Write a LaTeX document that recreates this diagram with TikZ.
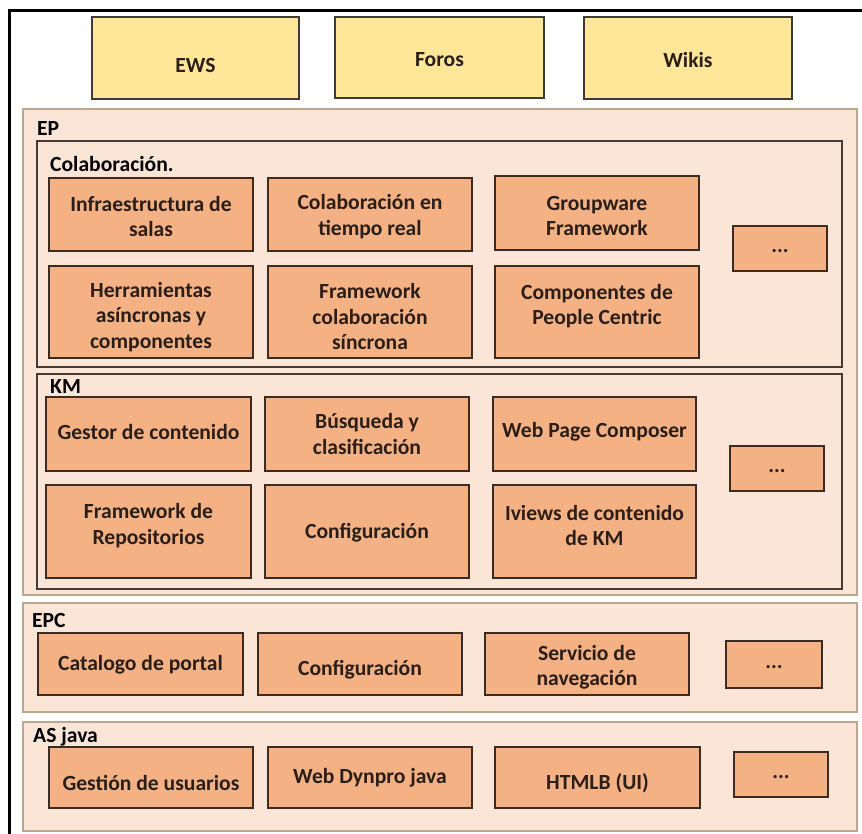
\documentclass[tikz,border=0pt]{standalone}
\usepackage{fontspec}
\setmainfont{Carlito}
\usepackage{tikz}
\definecolor[named]{AppYellow}{HTML}{FFE699}
\definecolor[named]{AppLine}{HTML}{3F3A33}
\definecolor[named]{LayerTint}{HTML}{FBE5D6}
\definecolor[named]{LayerLine}{HTML}{BFA68E}
\definecolor[named]{GroupLine}{HTML}{463A33}
\definecolor[named]{CompOrange}{HTML}{F4B183}
\definecolor[named]{CompLine}{HTML}{3D2B22}
\definecolor[named]{TextDark}{HTML}{2A1E18}
\tikzset{
  layer/.style={draw=LayerLine,fill=LayerTint,line width=1.2pt},
  group/.style={draw=GroupLine,fill=LayerTint,line width=1.5pt},
  app/.style={draw=AppLine,fill=AppYellow,line width=1.5pt},
  comp/.style={draw=CompLine,fill=CompOrange,line width=1.6pt},
  boxtext/.style={text=TextDark,font=\bfseries,align=center,inner sep=0pt},
  tag/.style={text=black,font=\bfseries,anchor=west,inner sep=0pt},
}
% [text shift]{style}{name}{x1}{y1}{x2}{y2}{text}
\newcommand{\drawblock}[8][0]{%
  \draw[#2] (#4,#5) rectangle (#6,#7);
  \node[boxtext] (#3) at ({(#4+#6)/2},{(#5+#7)/2+#1}) {#8};
}

\begin{document}
\begin{tikzpicture}[x=1pt,y=-1pt]
  \path[use as bounding box] (0,0) rectangle (862,834);
  \fontsize{21.6}{25.5}\selectfont

  % outer frame
  \draw[line width=3pt] (9,834) -- (9,11) -- (862,11);

  % Applications {{{
  \drawblock[7]{app}{ews}{92}{17}{299}{99}{EWS}
  \drawblock[2]{app}{foros}{335}{17}{544}{98}{Foros}
  \drawblock[2]{app}{wikis}{584}{17}{792}{99}{Wikis}
  % }}}

  % EP {{{
  \draw[layer] (23,109) rectangle (857,595);
  \node[tag] (ep) at (37,128) {EP};

  \draw[group] (37,141) rectangle (842,367);
  \node[tag] (colab) at (50,164) {Colaboración.};
  \drawblock[2]{comp}{salas}{49}{178}{253}{251}{Infraestructura de\\salas}
  \drawblock[2]{comp}{realtime}{268}{178}{472}{251}{Colaboración en\\tiempo real}
  \drawblock[3]{comp}{groupware}{495}{176}{699}{250}{Groupware\\Framework}
  \drawblock[5]{comp}{async}{49}{266}{253}{358}{Herramientas\\asíncronas y\\componentes}
  \drawblock[5]{comp}{sync}{268}{266}{472}{358}{Framework\\colaboración\\síncrona}
  \drawblock[-6]{comp}{people}{495}{266}{699}{358}{Componentes de\\People Centric}
  \drawblock[3]{comp}{colabmore}{733}{226}{827}{271}{...}

  \draw[group] (37,374) rectangle (842,589);
  \node[tag] (km) at (50,386) {KM};
  \drawblock[-2]{comp}{gestor}{46}{397}{251}{471}{Gestor de contenido}
  \drawblock{comp}{busqueda}{265}{397}{469}{471}{Búsqueda y\\clasificación}
  \drawblock[-2]{comp}{composer}{493}{397}{696}{471}{Web Page Composer}
  \drawblock[-6]{comp}{repos}{46}{485}{251}{578}{Framework de\\Repositorios}
  \drawblock[1]{comp}{kmconfig}{265}{485}{469}{578}{Configuración}
  \drawblock[-6]{comp}{iviews}{493}{485}{696}{578}{Iviews de contenido\\de KM}
  \drawblock[3]{comp}{kmmore}{730}{446}{824}{491}{...}
  % }}}

  % EPC {{{
  \draw[layer] (23,603) rectangle (857,712);
  \node[tag] (epc) at (32,620) {EPC};
  \drawblock[1]{comp}{catalogo}{38}{633}{243}{695}{Catalogo de portal}
  \drawblock[6]{comp}{epcconfig}{258}{633}{462}{695}{Configuración}
  \drawblock[3]{comp}{navegacion}{485}{633}{689}{695}{Servicio de\\navegación}
  \drawblock[3]{comp}{epcmore}{726}{641}{822}{688}{...}
  % }}}

  % AS java {{{
  \draw[layer] (23,722) rectangle (857,831);
  \node[tag] (asjava) at (33,737) {AS java};
  \drawblock[5]{comp}{usuarios}{49}{747}{253}{808}{Gestión de usuarios}
  \drawblock{comp}{dynpro}{268}{747}{472}{808}{Web Dynpro java}
  \drawblock[6]{comp}{htmlb}{495}{747}{700}{808}{HTMLB (UI)}
  \drawblock[3]{comp}{asmore}{734}{752}{828}{797}{...}
  % }}}
\end{tikzpicture}
\end{document}
